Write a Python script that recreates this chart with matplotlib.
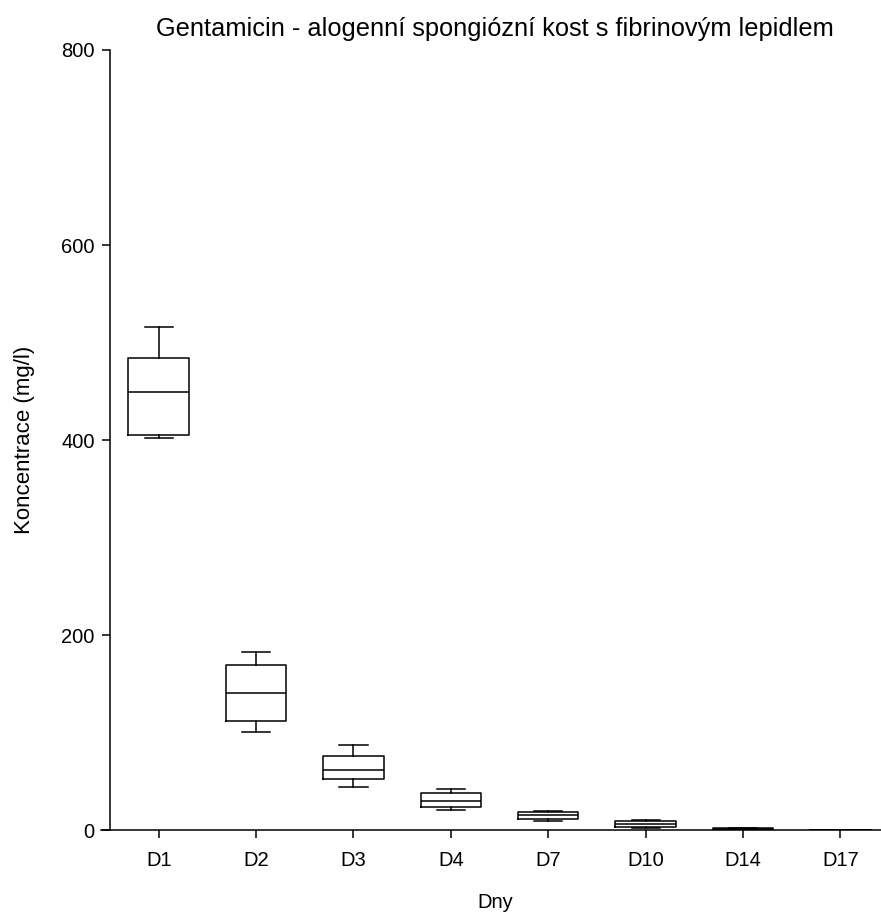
import matplotlib
matplotlib.use("Agg")
import matplotlib.pyplot as plt

plt.rcParams['font.family'] = ['Liberation Sans', 'DejaVu Sans']

# Sampling days and box-plot statistics of gentamicin concentration (mg/l)
days = ["D1", "D2", "D3", "D4", "D7", "D10", "D14", "D17"]
whisker_low = [402.6, 101.0, 44.9, 20.7, 9.4, 3.0, 0.5, 0.1]
quartile_1 = [405.0, 112.5, 52.8, 23.8, 12.1, 3.9, 0.8, 0.2]
median = [449.0, 141.0, 62.3, 30.2, 15.5, 7.0, 1.5, 0.3]
quartile_3 = [484.0, 170.0, 76.4, 38.1, 19.3, 10.0, 2.2, 0.5]
whisker_high = [516.0, 183.0, 87.6, 42.8, 20.0, 11.0, 2.6, 0.6]

stats = [
    dict(label=d, whislo=lo, q1=q1, med=m, q3=q3, whishi=hi, fliers=[])
    for d, lo, q1, m, q3, hi in zip(days, whisker_low, quartile_1, median,
                                     quartile_3, whisker_high)
]

fig = plt.figure(figsize=(8.81, 9.15), dpi=100)
ax = fig.add_axes([0.1149, 0.0924, 0.8944, 0.8530])

line = dict(color="black", linewidth=1.1)
ax.bxp(stats, positions=range(len(days)), widths=0.62, capwidths=0.29,
       showfliers=False, boxprops=line, medianprops=line,
       whiskerprops=line, capprops=line)

ax.set_xlim(-0.59, 7.5)
ax.set_ylim(0, 800)
ax.set_yticks([0, 200, 400, 600, 800])
ax.set_xticks(range(len(days)))
ax.set_xticklabels(days)

ax.spines["top"].set_visible(False)
ax.spines["right"].set_visible(False)
ax.spines["left"].set_position(("data", -0.5))
for s in ("left", "bottom"):
    ax.spines[s].set_linewidth(1.1)

ax.tick_params(axis="both", direction="out", length=6, width=1.1,
               labelsize=14.5)
ax.tick_params(axis="y", pad=5)
ax.tick_params(axis="x", pad=9)

ax.set_title("Gentamicin - alogenní spongiózní kost s fibrinovým lepidlem",
             fontsize=18.3, pad=10)
ax.set_xlabel("Dny", fontsize=14.5, labelpad=16)
ax.set_ylabel("Koncentrace (mg/l)", fontsize=16, labelpad=19)

fig.savefig("out.png", dpi=100)
